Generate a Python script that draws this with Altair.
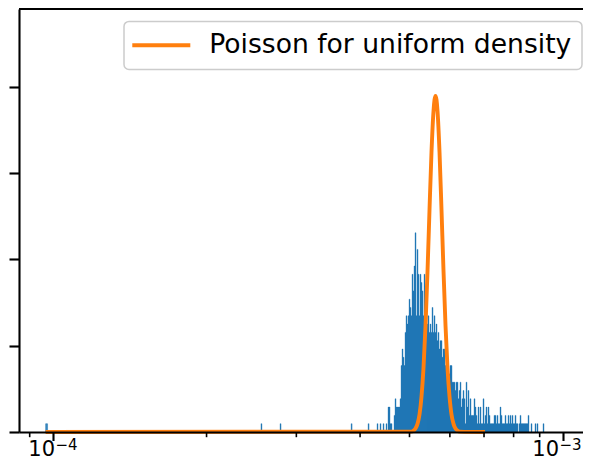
import altair as alt
import pandas as pd

BLUE = "#1f77b4"
ORANGE = "#ff7f0e"
FONT = "DejaVu Sans"

# ---- data ----
x_domain = [8.576e-5, 1.0944e-3]
bins_per_decade = 510  # log-uniform bins, one per 1/510 decade

cluster_first_edge = 4.318e-4
cluster_counts = [
    1, 0, 0, 1, 0, 0, 1, 0, 0, 1,
    0, 3, 3, 1, 1, 0, 0, 2, 4, 3,
    3, 3, 3, 4, 8, 10, 9, 8, 12, 14,
    13, 14, 16, 15, 14, 19, 17, 20, 24, 14,
    22, 19, 14, 19, 18, 17, 14, 19, 14, 16,
    13, 14, 12, 13, 12, 15, 12, 14, 12, 13,
    11, 12, 10, 11, 11, 9, 10, 10, 8, 8,
    9, 7, 7, 8, 8, 6, 6, 6, 5, 6,
    6, 4, 5, 6, 3, 4, 5, 4, 1, 6,
    3, 5, 2, 4, 2, 2, 2, 4, 3, 2,
    1, 3, 1, 3, 1, 1, 4, 1, 2, 3,
    1, 3, 2, 1, 1, 1, 1, 2, 2, 1,
    2, 1, 1, 3, 2, 1, 1, 1, 2, 1,
    1, 2, 1, 2, 1, 2, 1, 1, 2, 1,
    1, 0, 1, 2, 1, 1, 1, 1, 1, 1,
    1, 2, 0, 0, 1, 0, 0, 0, 1, 0,
    1, 0, 0, 0, 0, 0, 1,
]
sparse_edges = [9.67e-5, 9.714e-5, 2.557e-4, 2.787e-4, 3.841e-4, 4.147e-4]
sparse_counts = [1, 1, 1, 1, 1, 1]

curve_label = "Poisson for uniform density"
curve_x_e4 = [0.967, 5.045, 5.091, 5.137, 5.184, 5.231, 5.279, 5.326, 5.375,
              5.424, 5.473, 5.522, 5.573, 5.623, 5.674, 5.726, 5.777, 5.830,
              5.883, 5.936, 5.990, 6.044, 6.099, 6.154, 6.210, 6.267, 7.03]
curve_y = [0, 0.05, 0.16, 0.41, 0.98, 2.1, 4.3, 7.7, 12.8, 19.4, 26.8, 33.7,
           38.7, 40.5, 38.7, 33.7, 26.8, 19.4, 12.8, 7.7, 4.3, 2.1, 0.98,
           0.41, 0.16, 0.05, 0]

y_max = 50.96
y_ticks = [0, 10.4, 20.8, 31.2, 41.6]
major_ticks = [1e-4, 1e-3]
major_base = ["10", "10"]
major_exp = ["\u22124", "\u22123"]
minor_ticks = [9e-5, 2e-4, 3e-4, 4e-4, 5e-4, 6e-4, 7e-4, 8e-4, 9e-4]

# ---- tables ----
ratio = 10 ** (1 / bins_per_decade)
rows = []
for i, c in enumerate(cluster_counts):
    lo = cluster_first_edge * ratio ** i
    rows.append({"lo": lo, "hi": lo * ratio, "count": c})
for e, c in zip(sparse_edges, sparse_counts):
    rows.append({"lo": e, "hi": e * ratio, "count": c})
bars_df = pd.DataFrame(rows)
bars_df = bars_df[bars_df["count"] > 0]
bars_df["base"] = 0

curve_df = pd.DataFrame({
    "x": [v * 1e-4 for v in curve_x_e4],
    "y": curve_y,
    "series": curve_label,
})
minor_df = pd.DataFrame({"t": minor_ticks})
labels_df = pd.DataFrame({"t": major_ticks, "base": major_base, "exp": major_exp})

W, H = 564, 423
xscale = alt.Scale(type="log", domain=x_domain, nice=False)
yscale = alt.Scale(domain=[0, y_max], nice=False, zero=True)

xaxis = alt.Axis(
    values=major_ticks, labels=False,
    tickSize=8.5, tickWidth=2.1, tickColor="black",
    domainColor="black", domainWidth=2.1, grid=False, title=None, zindex=1,
)
yaxis = alt.Axis(
    values=y_ticks, labels=False, tickSize=10, tickWidth=2.1, tickColor="black",
    domainColor="black", domainWidth=2.1, grid=False, title=None, zindex=1,
)

bars = alt.Chart(bars_df).mark_rect(
    color=BLUE, stroke=BLUE, strokeWidth=0.35
).encode(
    x=alt.X("lo:Q", scale=xscale, axis=xaxis),
    x2="hi:Q",
    y=alt.Y("count:Q", scale=yscale, axis=yaxis),
    y2="base:Q",
)

line = alt.Chart(curve_df).mark_line(
    strokeWidth=3.9, interpolate="monotone"
).encode(
    x=alt.X("x:Q", scale=xscale, axis=xaxis),
    y=alt.Y("y:Q", scale=yscale, axis=yaxis),
    color=alt.Color(
        "series:N",
        scale=alt.Scale(domain=[curve_label], range=[ORANGE]),
        legend=alt.Legend(
            orient="none", legendX=105, legendY=12.4, title=None,
            symbolType="M-3,0L3,0", symbolSize=374, symbolStrokeWidth=3.9,
            symbolOffset=13.5,
            labelFontSize=26.6, labelFont=FONT, labelColor="black",
            labelOffset=34.6, labelLimit=1000,
            padding=10.5, strokeColor="#cccccc",
            fillColor="white", cornerRadius=5,
        ),
    ),
)

minor = alt.Chart(minor_df).mark_rule(color="black", strokeWidth=1.6).encode(
    x=alt.X("t:Q", scale=xscale, axis=xaxis),
    y=alt.value(H),
    y2=alt.value(H + 5.2),
)


def tick_label(row_filter, shift):
    src = alt.Chart(labels_df).transform_filter(row_filter)
    base = src.mark_text(
        align="right", baseline="alphabetic", fontSize=21, font=FONT,
        color="black", dx=2 + shift,
    ).encode(x=alt.X("t:Q", scale=xscale, axis=xaxis), y=alt.value(H + 23.5), text="base:N")
    exp = src.mark_text(
        align="left", baseline="alphabetic", fontSize=15, font=FONT,
        color="black", dx=2.5 + shift,
    ).encode(x=alt.X("t:Q", scale=xscale, axis=xaxis), y=alt.value(H + 18), text="exp:N")
    return [base, exp]


lab_lo = tick_label("datum.t < 0.0005", 0)
lab_hi = tick_label("datum.t > 0.0005", -6)

top_spine = alt.Chart(pd.DataFrame({"a": [0]})).mark_rule(
    color="black", strokeWidth=2.1
).encode(x=alt.value(0), x2=alt.value(W), y=alt.value(0))

chart = (
    alt.layer(bars, line, minor, *lab_lo, *lab_hi, top_spine)
    .properties(
        width=W, height=H,
        autosize=alt.AutoSizeParams(type="none"),
        padding={"left": 11, "top": 1, "right": 0, "bottom": 29},
    )
    .configure(font=FONT)
    .configure_view(stroke=None)
    .configure_legend(strokeWidth=1.5)
)

chart.save("out.html", embed_options={"renderer": "svg", "actions": False})
